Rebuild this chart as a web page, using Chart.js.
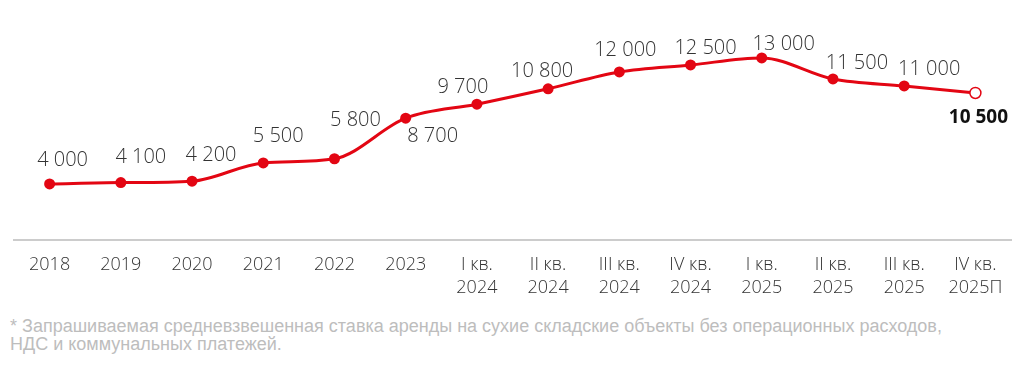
<!DOCTYPE html>
<html>
<head>
<meta charset="utf-8">
<script src="https://cdn.jsdelivr.net/npm/chart.js@4"></script>
<style>
  body { margin: 0; background: #fff; }
  #wrap { position: relative; width: 1024px; height: 312px; }
  #note { position: absolute; left: 10px; top: 317px; font-family: "Liberation Sans", Arial, sans-serif; font-size: 18px; line-height: 18px; color: #bdbdbd; }
</style>
</head>
<body>
<div id="wrap"><canvas id="chart"></canvas></div>
<div id="note">* Запрашиваемая средневзвешенная ставка аренды на сухие складские объекты без операционных расходов,<br>НДС и коммунальных платежей.</div>
<script>
const categories = [['2018'], ['2019'], ['2020'], ['2021'], ['2022'], ['2023'],
  ['I кв.', '2024'], ['II кв.', '2024'], ['III кв.', '2024'], ['IV кв.', '2024'],
  ['I кв.', '2025'], ['II кв.', '2025'], ['III кв.', '2025'], ['IV кв.', '2025П']];
const rent = [4000, 4100, 4200, 5500, 5800, 8700, 9700, 10800, 12000, 12500, 13000, 11500, 11000, 10500];
const forecastIndex = 13;

// label offsets relative to the point (dx, dy of text center)
const labelShift = [[13,-24],[20,-25],[19,-26],[15,-27],[21,-38],[27,18],[-14,-17],[-6,-17],[6,-22],[15,-17],[22,-14],[24,-16],[25,-17],[3,25]];
const red = '#e30613';

const fmt = v => v.toLocaleString('ru-RU').replace(/\s/g, ' ');

const valueLabels = {
  id: 'valueLabels',
  afterDatasetsDraw(chart) {
    const ctx = chart.ctx;
    const meta = chart.getDatasetMeta(0);
    ctx.save();
    ctx.textAlign = 'center';
    ctx.textBaseline = 'middle';
    meta.data.forEach((pt, i) => {
      const last = i === forecastIndex;
      ctx.font = (last ? 'bold 19px' : '300 20px') + ' "Open Sans", sans-serif';
      ctx.fillStyle = last ? '#111' : '#333';
      ctx.fillText(fmt(rent[i]), pt.x + labelShift[i][0], pt.y + labelShift[i][1]);
    });
    ctx.restore();
  }
};

new Chart(document.getElementById('chart'), {
  type: 'line',
  data: {
    labels: categories,
    datasets: [{
      data: rent,
      borderColor: red,
      borderWidth: 3,
      tension: 0.4,
      cubicInterpolationMode: 'monotone',
      pointRadius: 5.5,
      pointBorderWidth: rent.map((v, i) => i === forecastIndex ? 1.5 : 0),
      pointBackgroundColor: rent.map((v, i) => i === forecastIndex ? '#fff' : red),
      pointBorderColor: red
    }]
  },
  options: {
    responsive: true,
    maintainAspectRatio: false,
    animation: false,
    layout: { padding: { top: 16, left: 14, right: 13, bottom: 0 } },
    plugins: { legend: { display: false }, tooltip: { enabled: false } },
    scales: {
      x: {
        offset: true,
        grid: { display: false, drawTicks: false },
        border: { color: '#cccccc', width: 2 },
        ticks: { color: '#333', padding: 13, maxRotation: 0, autoSkip: false,
                 font: { family: '"Open Sans", sans-serif', size: 18, weight: '300', lineHeight: 1.28 } }
      },
      y: { display: false, min: 0, max: 16000 }
    }
  },
  plugins: [valueLabels]
});
</script>
</body>
</html>
